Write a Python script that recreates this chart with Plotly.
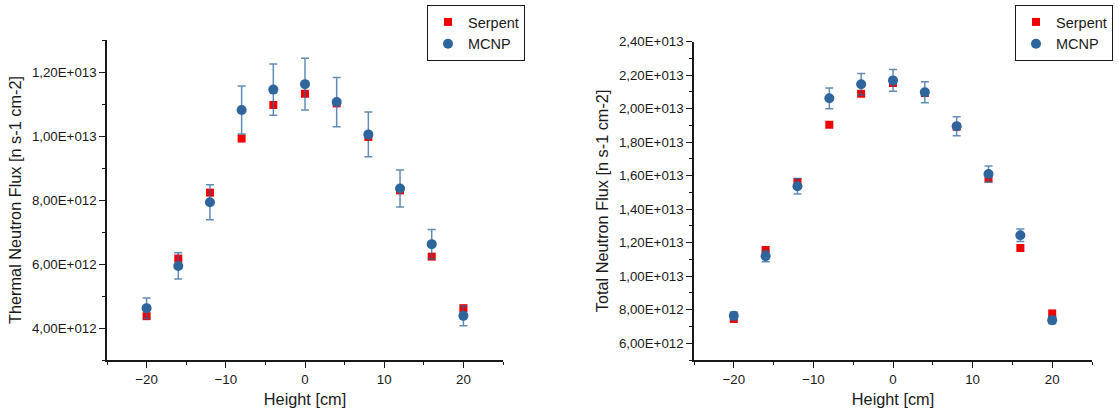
import plotly.graph_objects as go

# Axial positions of the detectors
height_cm = [-20, -16, -12, -8, -4, 0, 4, 8, 12, 16, 20]

# Thermal neutron flux [n s-1 cm-2]
thermal_serpent = [4.37e12, 6.17e12, 8.23e12, 9.92e12, 1.097e13, 1.132e13,
                   1.102e13, 9.97e12, 8.30e12, 6.23e12, 4.62e12]
thermal_mcnp = [4.62e12, 5.94e12, 7.93e12, 1.081e13, 1.145e13, 1.162e13,
                1.106e13, 1.005e13, 8.36e12, 6.62e12, 4.38e12]
thermal_mcnp_err = [3.2e11, 4.1e11, 5.5e11, 7.5e11, 8.0e11, 8.1e11,
                    7.7e11, 7.0e11, 5.8e11, 4.6e11, 3.1e11]

# Total neutron flux [n s-1 cm-2]
total_serpent = [7.45e12, 1.156e13, 1.563e13, 1.905e13, 2.089e13, 2.153e13,
                 2.094e13, 1.893e13, 1.583e13, 1.168e13, 7.78e12]
total_mcnp = [7.64e12, 1.12e13, 1.537e13, 2.062e13, 2.146e13, 2.169e13,
              2.098e13, 1.895e13, 1.61e13, 1.245e13, 7.38e12]
total_mcnp_err = [2.3e11, 3.4e11, 4.6e11, 6.2e11, 6.4e11, 6.5e11,
                  6.3e11, 5.7e11, 4.8e11, 3.7e11, 2.2e11]

thermal_ticks = [4e12, 6e12, 8e12, 1.0e13, 1.2e13]
thermal_ticktext = ["4,00E+012", "6,00E+012", "8,00E+012", "1,00E+013", "1,20E+013"]
total_ticks = [6e12, 8e12, 1.0e13, 1.2e13, 1.4e13, 1.6e13, 1.8e13, 2.0e13, 2.2e13, 2.4e13]
total_ticktext = ["6,00E+012", "8,00E+012", "1,00E+013", "1,20E+013", "1,40E+013",
                  "1,60E+013", "1,80E+013", "2,00E+013", "2,20E+013", "2,40E+013"]

RED = "rgb(242,0,0)"
BLUE = "rgb(46,101,157)"
ERR = "rgba(46,101,157,0.75)"
FONT = "Liberation Sans, Arial, sans-serif"
INK = "#1a1a1a"
W, H = 1118, 414

fig = go.Figure()

def add_pair(serpent, mcnp, err, xa, ya, legend):
    fig.add_trace(go.Scatter(
        x=height_cm, y=serpent, mode="markers", name="Serpent",
        marker=dict(symbol="square", size=8, color=RED),
        xaxis=xa, yaxis=ya, legend=legend))
    fig.add_trace(go.Scatter(
        x=height_cm, y=mcnp, mode="markers", name="MCNP",
        marker=dict(symbol="circle", size=10, color=BLUE),
        error_y=dict(type="data", array=err, color=ERR, thickness=1.5, width=4),
        xaxis=xa, yaxis=ya, legend=legend))

add_pair(thermal_serpent, thermal_mcnp, thermal_mcnp_err, "x", "y", "legend")
add_pair(total_serpent, total_mcnp, total_mcnp_err, "x2", "y2", "legend2")

axis_common = dict(
    showline=True, linecolor=INK, linewidth=1.5,
    ticks="outside", ticklen=6, tickwidth=1.3, tickcolor=INK,
    showgrid=False, zeroline=False, mirror=False, automargin=False,
    tickfont=dict(family=FONT, size=13.3, color=INK),
)
minor_style = dict(ticks="outside", ticklen=3, tickwidth=1.3, tickcolor=INK)
xaxis_common = dict(
    axis_common, range=[-25, 25], tickmode="array",
    tickvals=[-20, -10, 0, 10, 20],
    minor=dict(minor_style, tickmode="array", tickvals=[-25, -15, -5, 5, 15, 25]),
    title=dict(text="Height [cm]", font=dict(family=FONT, size=16.3, color=INK),
               standoff=8),
)

def px(v):
    return v / W

def py(v):
    return (H - v) / H

legend_style = dict(
    y=py(5), yanchor="top", bordercolor=INK, borderwidth=1, bgcolor="white",
    font=dict(family=FONT, size=14.5, color=INK), tracegroupgap=0, itemwidth=30,
)

fig.update_layout(
    width=W, height=H,
    margin=dict(l=0, r=0, t=0, b=0),
    paper_bgcolor="white", plot_bgcolor="white",
    showlegend=True,
    xaxis=dict(xaxis_common, domain=[px(107), px(503)], anchor="y"),
    xaxis2=dict(xaxis_common, domain=[px(694), px(1092)], anchor="y2"),
    yaxis=dict(
        axis_common, domain=[py(360), py(40)], anchor="x", range=[3e12, 1.3e13],
        tickmode="array", tickvals=thermal_ticks, ticktext=thermal_ticktext,
        minor=dict(minor_style, tickmode="array",
                   tickvals=[3e12, 5e12, 7e12, 9e12, 1.1e13, 1.3e13]),
        title=dict(text="Thermal Neutron Flux [n s-1 cm-2]",
                   font=dict(family=FONT, size=16.3, color=INK), standoff=6),
    ),
    yaxis2=dict(
        axis_common, domain=[py(360), py(41.7)], anchor="x2", range=[5e12, 2.4e13],
        tickmode="array", tickvals=total_ticks, ticktext=total_ticktext,
        minor=dict(minor_style, tickmode="array",
                   tickvals=[5e12, 7e12, 9e12, 1.1e13, 1.3e13, 1.5e13, 1.7e13,
                             1.9e13, 2.1e13, 2.3e13]),
        title=dict(text="Total Neutron Flux [n s-1 cm-2]",
                   font=dict(family=FONT, size=16.3, color=INK), standoff=6),
    ),
    legend=dict(legend_style, x=px(525), xanchor="right"),
    legend2=dict(legend_style, x=px(1113), xanchor="right"),
)

fig.write_html("out.html")
